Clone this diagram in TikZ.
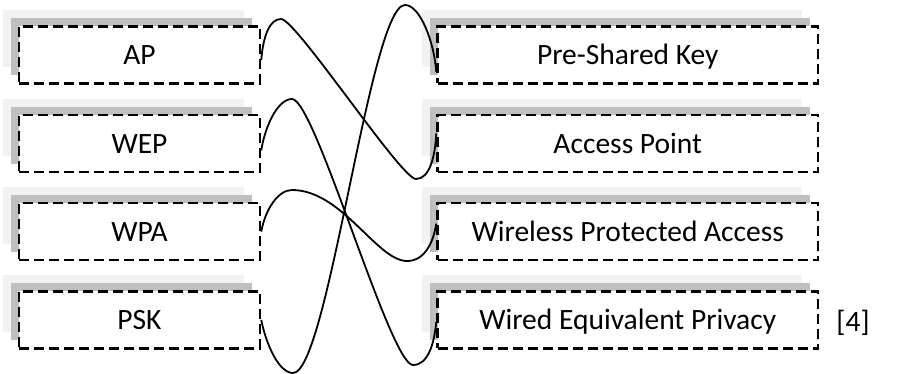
\documentclass[tikz,border=0pt]{standalone}
\usepackage{fontspec}
\setmainfont{Carlito}
\usetikzlibrary{shadows,calc}
\definecolor{shlight}{HTML}{F2F2F2}
\definecolor{shdark}{HTML}{BFBFBF}
\begin{document}
\begin{tikzpicture}[x=1pt,y=-1pt,
  label text/.style={font=\fontsize{29.5}{35}\selectfont, text height=20pt, text depth=0pt},
  box/.style={label text, draw=black, fill=white, line width=2.5pt, dash pattern=on 10pt off 5pt,
    minimum height=57pt, inner sep=0pt,
    copy shadow={shadow xshift=-16pt, shadow yshift=16pt, fill=shlight, draw=none},
    copy shadow={shadow xshift=-8pt, shadow yshift=8pt, fill=shdark, draw=none}},
  lbox/.style={box, minimum width=241pt},
  rbox/.style={box, minimum width=380.5pt},
  link/.style={draw=black, line width=1.8pt}
]
\useasboundingbox (0,0) rectangle (899,374);

\node[lbox] (ap)  at (139.5,55)    {AP};
\node[lbox] (wep) at (139.5,143.3) {WEP};
\node[lbox] (wpa) at (139.5,231.6) {WPA};
\node[lbox] (psk) at (139.5,319.9) {PSK};

\node[rbox] (preshared) at (627.75,55)    {Pre-Shared Key};
\node[rbox] (accesspt)  at (627.75,143.3) {Access Point};
\node[rbox] (wlpa)      at (627.75,231.6) {Wireless Protected Access};
\node[rbox] (wired)     at (627.75,319.9) {Wired Equivalent Privacy};

\node[label text, inner sep=0pt] (ref) at (853,321) {[4]};

% AP -> Access Point
\draw[link] ($(ap.east)+(0,5)$) .. controls +(2,-25) and +(-11,0) .. (281,19)
  .. controls +(15,0) and +(-15,0) .. (416,179)
  .. controls +(14,0) and +(-1,22) .. ($(accesspt.west)+(0,-10)$);
% WEP -> Wired Equivalent Privacy
\draw[link] ($(wep.east)+(0,7)$) .. controls +(4,-25) and +(-14,0) .. (292,99)
  .. controls +(23,0) and +(-23,0) .. (413,365)
  .. controls +(15,0) and +(-2,22) .. ($(wired.west)+(0,2)$);
% WPA -> Wireless Protected Access
\draw[link] (wpa.east) .. controls +(4,-22) and +(-14,0) .. (292,190)
  .. controls +(50,0) and +(-30,0) .. (407,261)
  .. controls +(17,0) and +(-3,20) .. ($(wlpa.west)+(0,-8)$);
% PSK -> Pre-Shared Key
\draw[link] (psk.east) .. controls +(5,25) and +(-14,0) .. (293,373)
  .. controls +(35,0) and +(-35,0) .. (405,5)
  .. controls +(15,0) and +(-2,-30) .. ($(preshared.west)+(0,17)$);
\end{tikzpicture}
\end{document}
